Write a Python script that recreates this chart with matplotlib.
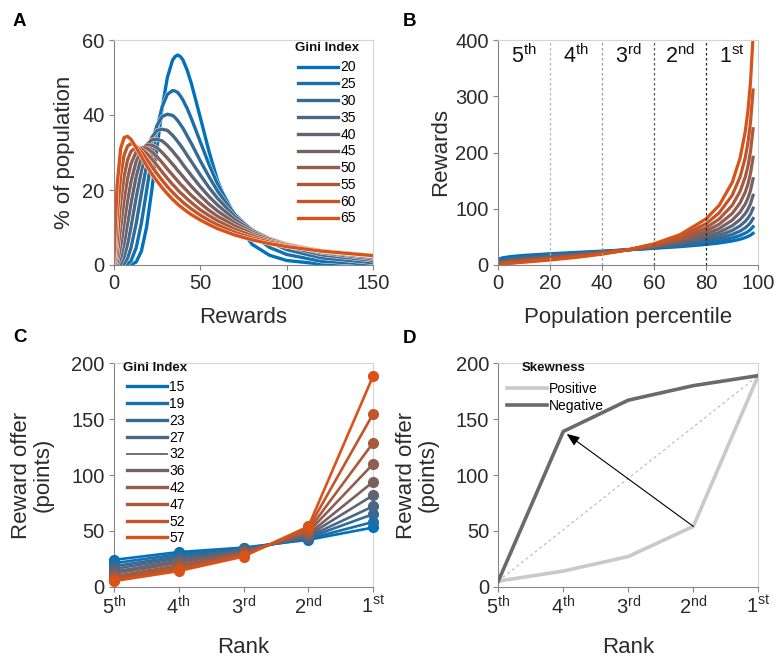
import numpy as np
import matplotlib
matplotlib.use('Agg')
import matplotlib.pyplot as plt
from matplotlib.lines import Line2D
from matplotlib import patheffects as pe
from matplotlib.colors import to_rgb

plt.rcParams['font.family'] = ['Liberation Sans', 'DejaVu Sans']
plt.rcParams['mathtext.fontset'] = 'custom'
plt.rcParams['mathtext.rm'] = 'Liberation Sans'
plt.rcParams['mathtext.it'] = 'Liberation Sans:italic'
plt.rcParams['mathtext.bf'] = 'Liberation Sans:bold'

# ---------------- Panel A data: reward distributions ----------------
gini_a = [20, 25, 30, 35, 40, 45, 50, 55, 60, 65]
reward_grid = [0, 1, 2, 4, 6, 8, 10, 13, 16, 19, 22, 25, 28, 31, 34, 35.5, 37, 38.5, 40, 42.5,
               45, 50, 55, 60, 70, 80, 90, 100, 120, 150]
pop_g20 = [0, 0, 0, 0, 0, 0.0, 0.1, 0.8, 3.7, 10.1, 19.9, 31.2, 41.9, 50.0, 54.6, 55.6, 56.0, 55.6, 54.7, 51.9,
           48.2, 39.4, 30.4, 22.5, 11.5, 5.5, 2.6, 1.2, 0.25, 0.03]
pop_g25 = [0, 0, 0, 0, 0.03, 0.25, 1.1, 4.6, 11.2, 19.8, 28.7, 36.5, 42.2, 45.5, 46.5, 46.4, 46.0, 45.1, 44.0, 41.7,
           38.9, 32.9, 26.9, 21.6, 13.3, 8.0, 4.7, 2.8, 1.0, 0.2]
pop_g30 = [0, 0, 0, 0.03, 0.4, 1.8, 4.6, 11.1, 19.1, 26.7, 32.9, 37.2, 39.6, 40.2, 39.9, 39.3, 38.5, 37.5, 36.5, 34.4,
           32.3, 27.8, 23.6, 19.7, 13.5, 9.1, 6.1, 4.1, 1.9, 0.6]
pop_g35 = [0, 0, 0, 0.4, 2.1, 5.5, 10.2, 18.0, 25.1, 30.5, 34.0, 35.9, 36.2, 35.9, 34.6, 33.8, 32.9, 32.0, 31.0, 29.2,
           27.5, 24.0, 20.7, 17.8, 12.9, 9.4, 6.8, 5.0, 2.7, 1.2]
pop_g40 = [0, 0, 0.1, 1.8, 5.7, 11.0, 16.5, 23.7, 28.8, 32.0, 33.4, 33.5, 33.1, 31.9, 30.4, 29.5, 28.7, 27.8, 26.8, 25.3,
           23.8, 20.9, 18.3, 16.0, 12.1, 9.2, 7.1, 5.4, 3.3, 1.6]
pop_g45 = [0, 0.05, 0.7, 4.9, 11.1, 17.2, 22.3, 27.7, 30.7, 32.0, 32.0, 31.3, 30.0, 28.5, 26.9, 26.1, 25.2, 24.4, 23.6, 22.2,
           20.9, 18.5, 16.3, 14.4, 11.2, 8.8, 7.0, 5.6, 3.6, 2.0]
pop_g50 = [0, 0.4, 2.6, 10.0, 17.4, 23.1, 27.0, 30.2, 31.3, 31.2, 30.2, 28.9, 27.3, 25.6, 24.0, 23.2, 22.4, 21.6, 20.9, 19.7,
           18.5, 16.5, 14.6, 13.0, 10.4, 8.3, 6.8, 5.5, 3.8, 2.3]
pop_g55 = [0, 1.6, 6.4, 16.6, 23.7, 28.0, 30.3, 31.4, 31.0, 29.8, 28.3, 26.6, 24.8, 23.1, 21.5, 20.8, 20.0, 19.3, 18.7, 17.6,
           16.6, 14.7, 13.2, 11.8, 9.5, 7.8, 6.4, 5.4, 3.8, 2.5]
pop_g60 = [0, 4.8, 12.7, 23.8, 29.3, 31.7, 32.4, 31.7, 30.2, 28.3, 26.3, 24.4, 22.6, 20.9, 19.4, 18.7, 18.0, 17.4, 16.7, 15.8,
           14.9, 13.3, 11.9, 10.7, 8.7, 7.2, 6.1, 5.1, 3.8, 2.5]
pop_g65 = [0, 11.1, 21.3, 31.0, 34.0, 34.3, 33.5, 31.3, 28.9, 26.5, 24.3, 22.4, 20.6, 19.0, 17.5, 16.9, 16.2, 15.6, 15.1, 14.2,
           13.4, 12.0, 10.8, 9.7, 8.0, 6.7, 5.7, 4.9, 3.7, 2.5]
pop_curves = [pop_g20, pop_g25, pop_g30, pop_g35, pop_g40,
              pop_g45, pop_g50, pop_g55, pop_g60, pop_g65]

# ---------------- Panel B data: rewards by population percentile ----------------
percentiles = [0.5, 2, 5, 10, 20, 30, 40, 50, 60, 70, 80, 85, 90, 93, 95, 96, 97, 98]
rew_g20 = [10.7, 12.9, 15.0, 17.1, 20.0, 22.4, 24.7, 27.0, 29.6, 32.6, 36.5, 39.1, 42.7, 45.8, 48.7, 50.6, 53.0, 56.4]
rew_g25 = [8.5, 10.7, 12.9, 15.2, 18.5, 21.3, 24.1, 27.0, 30.3, 34.2, 39.4, 43.1, 48.1, 52.5, 56.7, 59.4, 63.0, 68.1]
rew_g30 = [6.6, 8.8, 11.0, 13.4, 17.1, 20.3, 23.5, 27.0, 31.0, 35.9, 42.7, 47.5, 54.3, 60.3, 66.2, 70.1, 75.2, 82.7]
rew_g35 = [5.2, 7.2, 9.4, 11.9, 15.7, 19.3, 22.9, 27.0, 31.8, 37.8, 46.3, 52.5, 61.5, 69.6, 77.6, 83.1, 90.3, 100.9]
rew_g40 = [4.0, 5.9, 8.0, 10.4, 14.5, 18.3, 22.4, 27.0, 32.6, 39.8, 50.4, 58.2, 69.8, 80.7, 91.4, 98.9, 108.9, 123.8]
rew_g45 = [3.1, 4.8, 6.7, 9.1, 13.3, 17.3, 21.8, 27.0, 33.4, 42.1, 55.0, 64.8, 79.8, 94.0, 108.5, 118.6, 132.4, 153.3]
rew_g50 = [2.3, 3.8, 5.6, 8.0, 12.1, 16.4, 21.2, 27.0, 34.4, 44.5, 60.3, 72.6, 91.7, 110.3, 129.7, 143.4, 162.4, 191.5]
rew_g55 = [1.7, 3.0, 4.7, 6.9, 11.0, 15.4, 20.6, 27.0, 35.4, 47.3, 66.3, 81.7, 106.2, 130.7, 156.5, 175.2, 201.4, 242.2]
rew_g60 = [1.3, 2.3, 3.8, 5.9, 9.9, 14.5, 20.0, 27.0, 36.5, 50.4, 73.5, 92.7, 124.1, 156.4, 191.2, 216.9, 253.2, 311.1]
rew_g65 = [0.9, 1.8, 3.1, 5.0, 8.9, 13.5, 19.3, 27.0, 37.7, 54.0, 82.1, 106.2, 146.9, 189.9, 237.5, 273.1, 324.3, 407.5]
rew_curves = [rew_g20, rew_g25, rew_g30, rew_g35, rew_g40,
              rew_g45, rew_g50, rew_g55, rew_g60, rew_g65]
quintile_edges = [0, 20, 40, 60, 80, 100]
quintile_labels = [r'5$^{\mathrm{th}}$', r'4$^{\mathrm{th}}$', r'3$^{\mathrm{rd}}$',
                   r'2$^{\mathrm{nd}}$', r'1$^{\mathrm{st}}$']

# ---------------- Panel C data: reward offers by rank ----------------
ranks = [0, 1, 2, 3, 4]
rank_labels = quintile_labels
gini_c = [15, 19, 23, 27, 32, 36, 42, 47, 52, 57]
offer_g15 = [24.0, 31.0, 35.0, 42.0, 53]
offer_g19 = [21.0, 29.0, 34.2, 42.9, 58]
offer_g23 = [18.3, 27.0, 33.5, 43.9, 65]
offer_g27 = [15.9, 25.2, 32.7, 44.9, 72]
offer_g32 = [13.4, 23.1, 31.8, 46.1, 82]
offer_g36 = [11.6, 21.4, 31.0, 47.2, 94]
offer_g42 = [9.2, 19.1, 29.9, 49.0, 110]
offer_g47 = [7.6, 17.3, 29.0, 50.5, 129]
offer_g52 = [6.2, 15.6, 28.0, 52.2, 155]
offer_g57 = [5.0, 14.0, 27.0, 54.0, 189]
offer_curves = [offer_g15, offer_g19, offer_g23, offer_g27, offer_g32,
                offer_g36, offer_g42, offer_g47, offer_g52, offer_g57]

# ---------------- Panel D data: skewness ----------------
skew_positive = [5, 14, 27, 54, 189]
skew_negative = [5, 139, 167, 180, 189]

# ---------------- styling helpers ----------------
c_blue = np.array(to_rgb('#0072BD'))
c_orange = np.array(to_rgb('#D95319'))


def gradient(n):
    return [tuple(c_blue + (c_orange - c_blue) * i / (n - 1)) for i in range(n)]


TXT = '#2b2b2b'
LEG = dict(frameon=False, fontsize=10, handlelength=2.9, handletextpad=0.15,
           labelspacing=0.2, borderpad=0, borderaxespad=0, loc='upper left')


def style(ax):
    for s in ['top', 'right']:
        ax.spines[s].set_color('#d4d4d4')
    for s in ['left', 'bottom']:
        ax.spines[s].set_color('#858585')
    for s in ax.spines.values():
        s.set_linewidth(0.8)
    ax.tick_params(direction='out', length=3.5, width=0.8, color='#858585',
                   labelsize=14.5, labelcolor=TXT, pad=3)


def legend_title(ax, x, y, text):
    ax.text(x, y, text, transform=ax.transAxes, ha='center', va='center',
            fontsize=9.5, fontweight='bold', color='#111111')


W, H = 776, 660
fig = plt.figure(figsize=(W / 100, H / 100), dpi=100)


def px_axes(left, top, right, bottom):
    return fig.add_axes([left / W, 1 - bottom / H, (right - left) / W, (bottom - top) / H])


white_edge = [pe.Stroke(linewidth=3.0, foreground='white'), pe.Normal()]

# ---------------- Panel A ----------------
axA = px_axes(113.7, 40, 373.3, 265)
colsA = gradient(len(gini_a))
for g, ys, c in zip(gini_a, pop_curves, colsA):
    axA.plot(reward_grid, ys, color=c, lw=2.4, label=str(g),
             solid_joinstyle='round', path_effects=white_edge)
axA.set_xlim(0, 150)
axA.set_ylim(0, 60)
axA.set_xticks([0, 50, 100, 150])
axA.set_yticks([0, 20, 40, 60])
style(axA)
axA.set_xlabel('Rewards', fontsize=16, color=TXT)
axA.set_ylabel('% of population', fontsize=16, color=TXT)
axA.xaxis.set_label_coords(0.5, -0.185)
axA.yaxis.set_label_coords(-0.15, 0.5)
axA.legend(bbox_to_anchor=(0.710, 0.909), **LEG)
legend_title(axA, (327 - 113.7) / 259.6, 1 - (48 - 40) / 225, 'Gini Index')

# ---------------- Panel B ----------------
axB = px_axes(497.7, 40, 758.3, 265)
colsB = gradient(len(rew_curves))
for ys, c in zip(rew_curves, colsB):
    axB.plot(percentiles, ys, color=c, lw=2.3, solid_joinstyle='round')
line_cols = ['#b5b5b5', '#9a9a9a', '#555555', '#222222']
for xe, lc in zip(quintile_edges[1:-1], line_cols):
    axB.axvline(xe, color=lc, lw=0.9, ls=(0, (2, 2)), zorder=5)
for i, lab in enumerate(quintile_labels):
    xc = (quintile_edges[i] + quintile_edges[i + 1]) / 2
    axB.text(xc, 359, lab, ha='center', va='baseline', fontsize=15.5, color='#111111')
axB.set_xlim(0, 100)
axB.set_ylim(0, 400)
axB.set_xticks([0, 20, 40, 60, 80, 100])
axB.set_yticks([0, 100, 200, 300, 400])
style(axB)
axB.set_xlabel('Population percentile', fontsize=16, color=TXT)
axB.set_ylabel('Rewards', fontsize=16, color=TXT)
axB.xaxis.set_label_coords(0.5, -0.185)
axB.yaxis.set_label_coords(-0.18, 0.5)

# ---------------- Panel C ----------------
axC = px_axes(113.7, 363.3, 373.3, 586.7)
colsC = gradient(len(gini_c))
for ys, c in zip(offer_curves, colsC):
    axC.plot(ranks, ys, '-o', color=c, lw=1.9, ms=7, clip_on=False, zorder=3)
handlesC = [Line2D([], [], color=c, lw=(1.3 if g == 32 else 2.4)) for g, c in zip(gini_c, colsC)]
axC.legend(handlesC, [str(g) for g in gini_c], bbox_to_anchor=(0.051, 0.924), **LEG)
legend_title(axC, (155 - 113.7) / 259.6, 1 - (367.7 - 363.3) / 223.4, 'Gini Index')
axC.set_xlim(0, 4)
axC.set_ylim(0, 200)
axC.set_xticks(ranks)
axC.set_xticklabels(rank_labels)
axC.set_yticks([0, 50, 100, 150, 200])
style(axC)
axC.set_xlabel('Rank', fontsize=16, color=TXT)
axC.set_ylabel('Reward offer\n(points)', fontsize=16, color=TXT, linespacing=1.05)
axC.xaxis.set_label_coords(0.5, -0.225)
axC.yaxis.set_label_coords(-0.23, 0.5)

# ---------------- Panel D ----------------
axD = px_axes(498.3, 363.3, 758.3, 586.7)
axD.plot([ranks[0], ranks[-1]], [skew_positive[0], skew_positive[-1]],
         ls=(0, (3, 3)), color='#b0b0b0', lw=0.7, zorder=1)
axD.plot(ranks, skew_positive, color='#c9c9c9', lw=2.6, label='Positive', zorder=2)
axD.plot(ranks, skew_negative, color='#6a6a6a', lw=2.6, label='Negative', zorder=3)
axD.annotate('', xy=(ranks[1], skew_negative[1]), xytext=(ranks[3], skew_positive[3]),
             arrowprops=dict(arrowstyle='-|>,head_length=0.55,head_width=0.22', color='black',
                             lw=0.8, mutation_scale=14, shrinkA=0, shrinkB=3), zorder=4)
axD.legend(bbox_to_anchor=(0.033, 0.917), **LEG)
legend_title(axD, (554 - 498.3) / 260, 1 - (368 - 363.3) / 223.4, 'Skewness')
axD.set_xlim(0, 4)
axD.set_ylim(0, 200)
axD.set_xticks(ranks)
axD.set_xticklabels(rank_labels)
axD.set_yticks([0, 50, 100, 150, 200])
style(axD)
axD.set_xlabel('Rank', fontsize=16, color=TXT)
axD.set_ylabel('Reward offer\n(points)', fontsize=16, color=TXT, linespacing=1.05)
axD.xaxis.set_label_coords(0.5, -0.225)
axD.yaxis.set_label_coords(-0.23, 0.5)

# ---------------- Panel letters ----------------
for lab, x, y in [('A', 12.7, 26), ('B', 402.7, 26), ('C', 13.3, 341.7), ('D', 402.7, 342.7)]:
    fig.text(x / W, 1 - y / H, lab, fontsize=13.5, fontweight='bold', va='baseline', ha='left',
             color='black')

fig.savefig('out.png', dpi=100)
